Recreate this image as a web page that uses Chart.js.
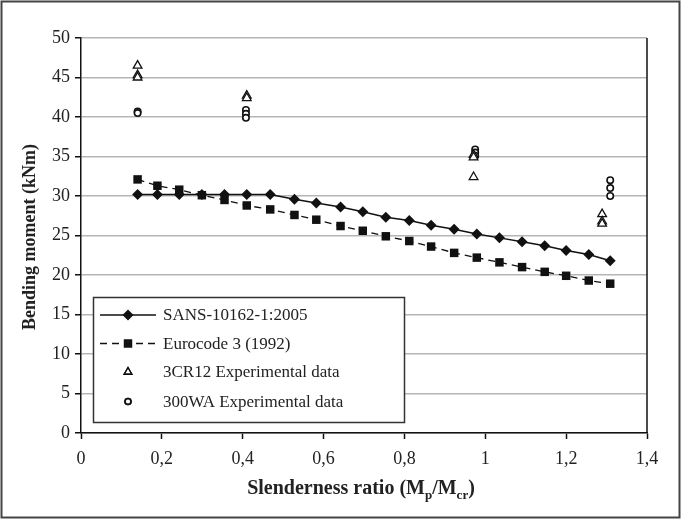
<!DOCTYPE html>
<html>
<head>
<meta charset="utf-8">
<script src="https://cdn.jsdelivr.net/npm/chart.js@4.4.1/dist/chart.umd.min.js"></script>
<style>
  html, body { margin: 0; padding: 0; background: #fff; }
  #wrap { width: 681px; height: 519px; position: relative; }
  canvas { display: block; }
</style>
</head>
<body>
<div id="wrap"><canvas id="c" width="681" height="519"></canvas></div>
<script>
// ---- data ----
const seriesNames = ['SANS-10162-1:2005', 'Eurocode 3 (1992)', '3CR12 Experimental data', '300WA Experimental data'];
const modelX = [0.140,0.189,0.243,0.299,0.355,0.410,0.468,0.528,0.582,0.642,0.697,0.754,0.812,0.866,0.923,0.979,1.035,1.091,1.147,1.200,1.256,1.309];
const sansY  = [30.2,30.2,30.2,30.2,30.2,30.2,30.2,29.6,29.1,28.6,28.0,27.3,26.9,26.3,25.8,25.2,24.7,24.2,23.7,23.1,22.6,21.8];
const euroY  = [32.1,31.3,30.8,30.1,29.5,28.8,28.3,27.6,27.0,26.2,25.6,24.9,24.3,23.6,22.8,22.2,21.6,21.0,20.4,19.9,19.3,18.9];
const cr12X  = [0.140,0.140,0.140,0.410,0.410,0.971,0.971,0.971,1.289,1.289,1.289];
const cr12Y  = [46.5,45.3,45.0,42.7,42.4,35.2,34.9,32.4,27.7,26.8,26.5];
const wa300X = [0.140,0.140,0.408,0.408,0.408,0.975,0.975,0.975,1.309,1.309,1.309];
const wa300Y = [40.7,40.5,40.9,40.4,39.9,35.9,35.5,35.1,32.0,31.0,30.0];
const xTickLabels = ['0','0,2','0,4','0,6','0,8','1','1,2','1,4'];
const yTitle = 'Bending moment (kNm)';
const xTitleParts = [['Slenderness ratio (M', false], ['p', true], ['/M', false], ['cr', true], [')', false]];

const pts = (xs, ys) => xs.map((x, i) => ({ x: x, y: ys[i] }));
const FONT = "'Liberation Serif', 'DejaVu Serif', serif";

const datasets = [
  { label: seriesNames[0], data: pts(modelX, sansY), showLine: true, borderColor: '#111', backgroundColor: '#111',
    borderWidth: 1.5, pointStyle: 'rectRot', pointRadius: 5.5, pointBorderWidth: 0, pointBackgroundColor: '#111' },
  { label: seriesNames[1], data: pts(modelX, euroY), showLine: true, borderColor: '#111', backgroundColor: '#111',
    borderWidth: 1.3, borderDash: [7, 5], pointStyle: 'rect', pointRadius: 6, pointBorderWidth: 0, pointBackgroundColor: '#111' },
  { label: seriesNames[2], data: pts(cr12X, cr12Y), showLine: false, borderColor: '#111', backgroundColor: '#fff',
    pointStyle: 'triangle', pointRadius: 5, pointBorderWidth: 1.3 },
  { label: seriesNames[3], data: pts(wa300X, wa300Y), showLine: false, borderColor: '#111', backgroundColor: '#fff',
    pointStyle: 'circle', pointRadius: 3.2, pointBorderWidth: 1.6 }
];

const decor = {
  id: 'decor',
  afterDraw(chart) {
    const ctx = chart.ctx, a = chart.chartArea;
    ctx.save();
    // right border of plot area
    ctx.strokeStyle = '#111'; ctx.lineWidth = 1.5;
    ctx.beginPath(); ctx.moveTo(a.right, a.top); ctx.lineTo(a.right, a.bottom); ctx.stroke();

    // legend
    const lx = 93.5, ly = 297.5, lw = 311, lh = 125;
    ctx.fillStyle = '#fff'; ctx.fillRect(lx, ly, lw, lh);
    ctx.strokeStyle = '#333'; ctx.lineWidth = 1.5; ctx.strokeRect(lx, ly, lw, lh);
    const rows = [315, 343.5, 372, 401.5];
    chart.data.datasets.forEach((ds, i) => {
      const y = rows[i];
      ctx.save();
      if (ds.showLine) {
        ctx.strokeStyle = ds.borderColor; ctx.lineWidth = ds.borderWidth;
        ctx.setLineDash(ds.borderDash || []);
        ctx.beginPath(); ctx.moveTo(100, y); ctx.lineTo(156, y); ctx.stroke();
        ctx.setLineDash([]);
      }
      ctx.fillStyle = ds.pointBackgroundColor || ds.backgroundColor;
      ctx.strokeStyle = ds.borderColor;
      ctx.lineWidth = ds.pointBorderWidth;
      const r = ds.pointStyle === 'triangle' ? 4.5 : (ds.pointStyle === 'circle' ? 3 : ds.pointRadius);
      Chart.helpers.drawPoint(ctx, { pointStyle: ds.pointStyle, radius: r, borderWidth: ds.pointBorderWidth, rotation: 0 }, 128, y);
      if (ds.pointBorderWidth > 0) ctx.stroke();
      ctx.restore();
      ctx.fillStyle = '#222';
      ctx.font = '17px ' + FONT;
      ctx.textAlign = 'left'; ctx.textBaseline = 'middle';
      ctx.fillText(ds.label, 163, y + 1);
    });

    // y title
    ctx.save();
    ctx.translate(30, 237);
    ctx.rotate(-Math.PI / 2);
    ctx.font = 'bold 18px ' + FONT;
    ctx.fillStyle = '#222'; ctx.textAlign = 'center'; ctx.textBaseline = 'middle';
    ctx.fillText(yTitle, 0, 0);
    ctx.restore();

    // x title with subscripts
    const mainF = 'bold 20px ' + FONT, subF = 'bold 13px ' + FONT;
    let total = 0;
    xTitleParts.forEach(([t, sub]) => { ctx.font = sub ? subF : mainF; total += ctx.measureText(t).width; });
    let x = 361 - total / 2;
    const base = 494;
    ctx.fillStyle = '#222'; ctx.textAlign = 'left'; ctx.textBaseline = 'alphabetic';
    xTitleParts.forEach(([t, sub]) => {
      ctx.font = sub ? subF : mainF;
      ctx.fillText(t, x, sub ? base + 5 : base);
      x += ctx.measureText(t).width;
    });

    // outer frame
    ctx.strokeStyle = '#444'; ctx.lineWidth = 2;
    ctx.strokeRect(1.5, 1.5, 678, 516);
    ctx.restore();
  }
};

new Chart(document.getElementById('c'), {
  type: 'scatter',
  data: { datasets: datasets },
  options: {
    responsive: false,
    animation: false,
    devicePixelRatio: 1,
    layout: { padding: { top: 38, right: 34, left: 0, bottom: 0 } },
    plugins: { legend: { display: false }, tooltip: { enabled: false }, title: { display: false } },
    scales: {
      x: {
        type: 'linear', min: 0, max: 1.4,
        afterFit: s => { s.height = 86; },
        afterBuildTicks: s => { s.ticks = xTickLabels.map((_, i) => ({ value: i * 0.2 })); },
        ticks: { stepSize: 0.2, autoSkip: false, maxRotation: 0, padding: 9, color: '#222',
                 font: { family: FONT, size: 18 }, callback: (v, i) => xTickLabels[i] },
        grid: { drawOnChartArea: false, drawTicks: true, tickLength: 6, tickColor: '#111', tickWidth: 1.5 },
        border: { color: '#111', width: 1.5 }
      },
      y: {
        min: 0, max: 50,
        afterFit: s => { s.width = 81; },
        ticks: { stepSize: 5, padding: 5, color: '#222', font: { family: FONT, size: 18 } },
        grid: { color: '#b5b5b5', lineWidth: 1.5, tickLength: 6, tickColor: '#111', tickWidth: 1.5 },
        border: { color: '#111', width: 1.5 }
      }
    }
  },
  plugins: [decor]
});
</script>
</body>
</html>
